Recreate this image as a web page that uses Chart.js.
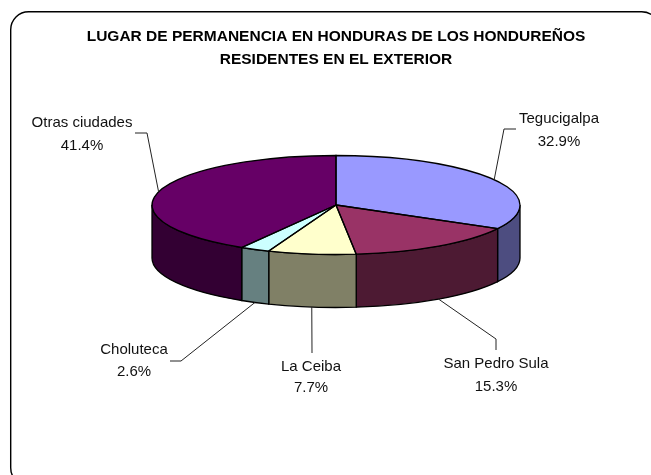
<!DOCTYPE html>
<html>
<head>
<meta charset="utf-8">
<title>Lugar de permanencia</title>
<script src="https://cdn.jsdelivr.net/npm/chart.js@4"></script>
<style>
  html, body { margin: 0; padding: 0; background: #fff; overflow: hidden; }
  canvas { display: block; }
</style>
</head>
<body>
<canvas id="grafico" width="651" height="475"></canvas>
<script>
// datos
const categorias = ['Tegucigalpa', 'San Pedro Sula', 'La Ceiba', 'Choluteca', 'Otras ciudades'];
const valores = [32.9, 15.3, 7.7, 2.6, 41.4];
const titulo = ['LUGAR DE PERMANENCIA EN HONDURAS DE LOS HONDUREÑOS', 'RESIDENTES EN EL EXTERIOR'];

const coloresTapa = ['#9999FF', '#993366', '#FFFFCC', '#CCFFFF', '#660066'];
const coloresLado = ['#4D4D80', '#4D1A33', '#808066', '#668080', '#330033'];

// el pastel se aplasta en vertical para simular la perspectiva
const RADIO = 184;
const RADIO_Y = 49.5;
const ALTO = 53;
const FUENTE = '"Liberation Sans", Arial, sans-serif';

// texto (centro, linea 1, linea 2) y codos de las lineas guia, por categoria
const rotulos = [
    { x: 559, y1: 119, y2: 142, guia: [[504, 129], [516, 129]] },
    { x: 496, y1: 364, y2: 387, guia: [[496, 339], [496, 350]] },
    { x: 311, y1: 367, y2: 388, guia: [[312, 353]] },
    { x: 134, y1: 350, y2: 372, guia: [[181, 361], [170, 361]] },
    { x: 82, y1: 123, y2: 146, guia: [[147, 133], [135, 133]] }
];

function trazarLados(ctx, arcos) {
    // solo se ve la pared de la mitad delantera (0 a PI en angulos de canvas)
    arcos.forEach((arco, i) => {
        const ini = Math.max(arco.startAngle, 0);
        const fin = Math.min(arco.endAngle, Math.PI);
        if (fin <= ini) return;
        ctx.beginPath();
        ctx.ellipse(arco.x, arco.y, RADIO, RADIO_Y, 0, ini, fin);
        ctx.ellipse(arco.x, arco.y + ALTO, RADIO, RADIO_Y, 0, fin, ini, true);
        ctx.closePath();
        ctx.fillStyle = coloresLado[i];
        ctx.fill();
        ctx.lineWidth = 1.3;
        ctx.strokeStyle = '#000';
        ctx.stroke();
    });
}

const pastel3d = {
    id: 'pastel3d',
    beforeDraw(chart) {
        // marco redondeado, se sale por abajo y por la derecha
        const ctx = chart.ctx;
        ctx.save();
        ctx.beginPath();
        ctx.roundRect(10.7, 11.7, 649, 474, 18);
        ctx.lineWidth = 1.4;
        ctx.strokeStyle = '#000';
        ctx.stroke();
        ctx.restore();
    },
    beforeDatasetDraw(chart) {
        const ctx = chart.ctx;
        const arcos = chart.getDatasetMeta(0).data;
        trazarLados(ctx, arcos);
        ctx.save();
        ctx.translate(arcos[0].x, arcos[0].y);
        ctx.scale(1, RADIO_Y / RADIO);
        ctx.translate(-arcos[0].x, -arcos[0].y);
    },
    afterDatasetDraw(chart) {
        const ctx = chart.ctx;
        ctx.restore();
        const arcos = chart.getDatasetMeta(0).data;

        // contorno de cada tajada
        ctx.save();
        ctx.lineWidth = 1.3;
        ctx.strokeStyle = '#000';
        arcos.forEach(arco => {
            ctx.beginPath();
            ctx.moveTo(arco.x, arco.y);
            ctx.ellipse(arco.x, arco.y, RADIO, RADIO_Y, 0, arco.startAngle, arco.endAngle);
            ctx.closePath();
            ctx.stroke();
        });

        // lineas guia y rotulos
        ctx.font = '15px ' + FUENTE;
        ctx.lineWidth = 1;
        ctx.textAlign = 'center';
        ctx.textBaseline = 'middle';
        arcos.forEach((arco, i) => {
            const medio = (arco.startAngle + arco.endAngle) / 2;
            const sinM = Math.sin(medio);
            const ax = arco.x + RADIO * Math.cos(medio);
            const ay = arco.y + RADIO_Y * sinM + (sinM > 0 ? ALTO : 0);
            ctx.beginPath();
            ctx.moveTo(ax, ay);
            rotulos[i].guia.forEach(p => ctx.lineTo(p[0], p[1]));
            ctx.strokeStyle = '#222';
            ctx.stroke();

            ctx.fillStyle = '#111';
            ctx.fillText(categorias[i], rotulos[i].x, rotulos[i].y1);
            ctx.fillText(valores[i].toFixed(1) + '%', rotulos[i].x, rotulos[i].y2);
        });
        ctx.restore();
    }
};

new Chart(document.getElementById('grafico').getContext('2d'), {
    type: 'pie',
    data: {
        labels: categorias,
        datasets: [{
            data: valores,
            backgroundColor: coloresTapa,
            borderWidth: 0,
            radius: RADIO
        }]
    },
    options: {
        responsive: false,
        animation: false,
        layout: { padding: { left: 21, right: 0, top: 0, bottom: 138 } },
        plugins: {
            legend: { display: false },
            tooltip: { enabled: false },
            title: {
                display: true,
                text: titulo,
                color: '#000',
                font: { family: FUENTE, size: 15.5, weight: 'bold', lineHeight: 23 / 15.5 },
                padding: { top: 25, bottom: 2 }
            }
        }
    },
    plugins: [pastel3d]
});
</script>
</body>
</html>
